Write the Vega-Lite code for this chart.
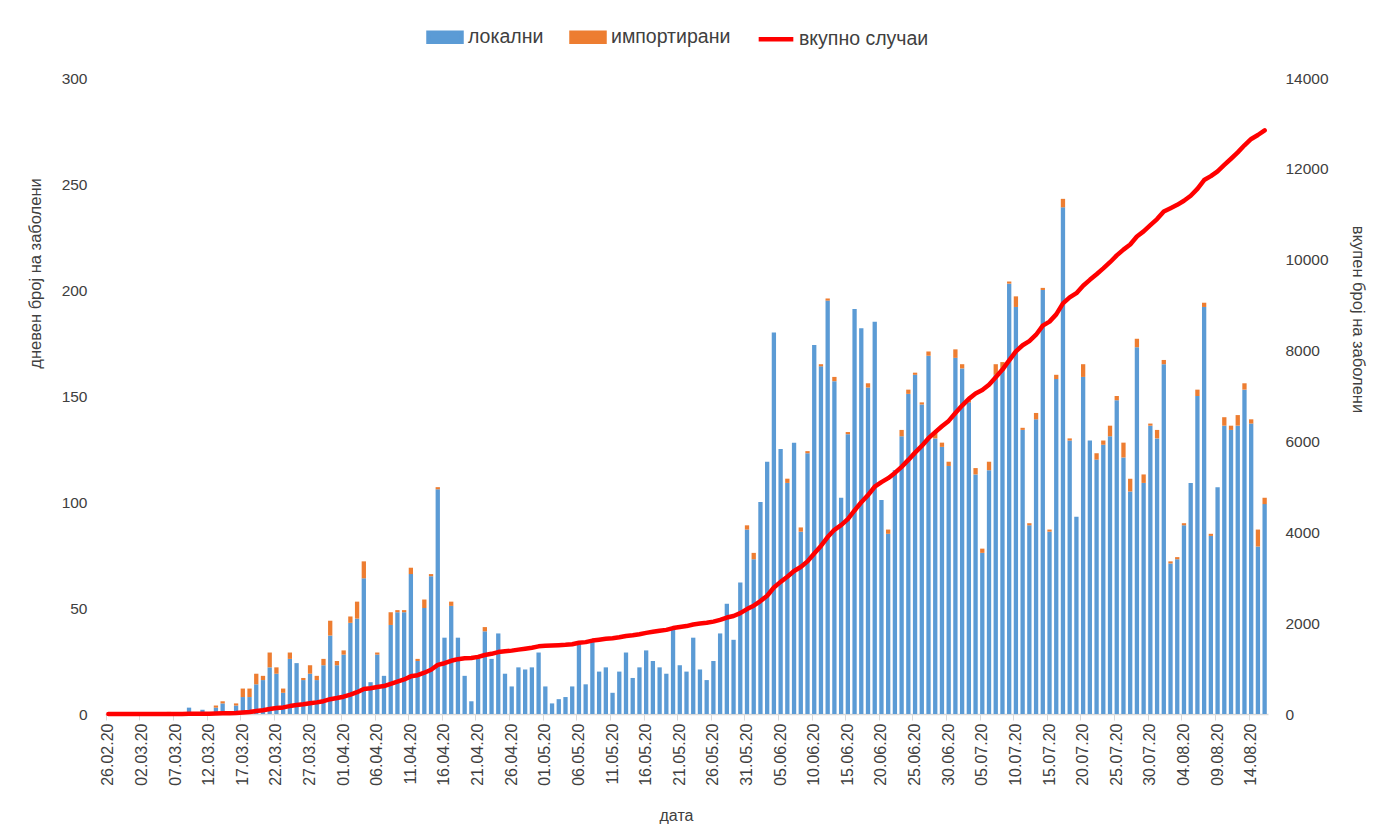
{
"$schema": "https://vega.github.io/schema/vega-lite/v6.json",
"width": 1163, "height": 636,
"autosize": {"type": "none"},
"padding": {"left": 105, "top": 78, "right": 117, "bottom": 120},
"background": "white",
"config": {"font": "Liberation Sans", "view": {"stroke": null}, "axis": {"grid": false, "labelColor": "#404040", "titleColor": "#404040", "titleFontWeight": "normal"}},
"data": {"values": [
{"d":"26.02.20","local":0,"imported":0,"total":0},
{"d":"27.02.20","local":0,"imported":0,"total":0},
{"d":"28.02.20","local":0,"imported":0,"total":0},
{"d":"29.02.20","local":0,"imported":0,"total":0},
{"d":"01.03.20","local":0,"imported":0,"total":0},
{"d":"02.03.20","local":0,"imported":0,"total":0},
{"d":"03.03.20","local":0,"imported":0,"total":0},
{"d":"04.03.20","local":0,"imported":0,"total":0},
{"d":"05.03.20","local":0,"imported":0,"total":0},
{"d":"06.03.20","local":0,"imported":1,"total":1},
{"d":"07.03.20","local":0,"imported":0,"total":1},
{"d":"08.03.20","local":0,"imported":0,"total":1},
{"d":"09.03.20","local":3,"imported":0,"total":4},
{"d":"10.03.20","local":0,"imported":0,"total":4},
{"d":"11.03.20","local":2,"imported":0,"total":6},
{"d":"12.03.20","local":0,"imported":0,"total":6},
{"d":"13.03.20","local":3,"imported":1,"total":10},
{"d":"14.03.20","local":5,"imported":1,"total":16},
{"d":"15.03.20","local":0,"imported":0,"total":16},
{"d":"16.03.20","local":4,"imported":1,"total":21},
{"d":"17.03.20","local":8,"imported":4,"total":33},
{"d":"18.03.20","local":8,"imported":4,"total":45},
{"d":"19.03.20","local":14,"imported":5,"total":64},
{"d":"20.03.20","local":16,"imported":2,"total":82},
{"d":"21.03.20","local":22,"imported":7,"total":111},
{"d":"22.03.20","local":19,"imported":3,"total":133},
{"d":"23.03.20","local":10,"imported":2,"total":145},
{"d":"24.03.20","local":26,"imported":3,"total":174},
{"d":"25.03.20","local":24,"imported":0,"total":198},
{"d":"26.03.20","local":16,"imported":1,"total":215},
{"d":"27.03.20","local":19,"imported":4,"total":238},
{"d":"28.03.20","local":16,"imported":2,"total":256},
{"d":"29.03.20","local":23,"imported":3,"total":282},
{"d":"30.03.20","local":37,"imported":7,"total":326},
{"d":"31.03.20","local":23,"imported":2,"total":351},
{"d":"01.04.20","local":28,"imported":2,"total":381},
{"d":"02.04.20","local":43,"imported":3,"total":427},
{"d":"03.04.20","local":45,"imported":8,"total":480},
{"d":"04.04.20","local":64,"imported":8,"total":552},
{"d":"05.04.20","local":15,"imported":0,"total":567},
{"d":"06.04.20","local":28,"imported":1,"total":596},
{"d":"07.04.20","local":18,"imported":0,"total":614},
{"d":"08.04.20","local":42,"imported":6,"total":662},
{"d":"09.04.20","local":48,"imported":1,"total":711},
{"d":"10.04.20","local":48,"imported":1,"total":760},
{"d":"11.04.20","local":66,"imported":3,"total":829},
{"d":"12.04.20","local":25,"imported":1,"total":855},
{"d":"13.04.20","local":50,"imported":4,"total":909},
{"d":"14.04.20","local":65,"imported":1,"total":975},
{"d":"15.04.20","local":106,"imported":1,"total":1082},
{"d":"16.04.20","local":36,"imported":0,"total":1118},
{"d":"17.04.20","local":51,"imported":2,"total":1171},
{"d":"18.04.20","local":36,"imported":0,"total":1207},
{"d":"19.04.20","local":18,"imported":0,"total":1225},
{"d":"20.04.20","local":6,"imported":0,"total":1231},
{"d":"21.04.20","local":26,"imported":1,"total":1258},
{"d":"22.04.20","local":39,"imported":2,"total":1299},
{"d":"23.04.20","local":26,"imported":0,"total":1325},
{"d":"24.04.20","local":38,"imported":0,"total":1363},
{"d":"25.04.20","local":19,"imported":0,"total":1382},
{"d":"26.04.20","local":13,"imported":0,"total":1395},
{"d":"27.04.20","local":22,"imported":0,"total":1417},
{"d":"28.04.20","local":21,"imported":0,"total":1438},
{"d":"29.04.20","local":22,"imported":0,"total":1460},
{"d":"30.04.20","local":29,"imported":0,"total":1489},
{"d":"01.05.20","local":13,"imported":0,"total":1502},
{"d":"02.05.20","local":5,"imported":0,"total":1507},
{"d":"03.05.20","local":7,"imported":0,"total":1514},
{"d":"04.05.20","local":8,"imported":0,"total":1522},
{"d":"05.05.20","local":13,"imported":0,"total":1535},
{"d":"06.05.20","local":33,"imported":0,"total":1568},
{"d":"07.05.20","local":14,"imported":0,"total":1582},
{"d":"08.05.20","local":34,"imported":0,"total":1616},
{"d":"09.05.20","local":20,"imported":0,"total":1636},
{"d":"10.05.20","local":22,"imported":0,"total":1658},
{"d":"11.05.20","local":10,"imported":0,"total":1668},
{"d":"12.05.20","local":20,"imported":0,"total":1688},
{"d":"13.05.20","local":29,"imported":0,"total":1717},
{"d":"14.05.20","local":17,"imported":0,"total":1734},
{"d":"15.05.20","local":22,"imported":0,"total":1756},
{"d":"16.05.20","local":30,"imported":0,"total":1786},
{"d":"17.05.20","local":25,"imported":0,"total":1811},
{"d":"18.05.20","local":22,"imported":0,"total":1833},
{"d":"19.05.20","local":19,"imported":0,"total":1852},
{"d":"20.05.20","local":40,"imported":0,"total":1892},
{"d":"21.05.20","local":23,"imported":0,"total":1915},
{"d":"22.05.20","local":20,"imported":0,"total":1935},
{"d":"23.05.20","local":36,"imported":0,"total":1971},
{"d":"24.05.20","local":21,"imported":0,"total":1992},
{"d":"25.05.20","local":16,"imported":0,"total":2008},
{"d":"26.05.20","local":25,"imported":0,"total":2033},
{"d":"27.05.20","local":38,"imported":0,"total":2071},
{"d":"28.05.20","local":52,"imported":0,"total":2123},
{"d":"29.05.20","local":35,"imported":0,"total":2158},
{"d":"30.05.20","local":62,"imported":0,"total":2220},
{"d":"31.05.20","local":87,"imported":2,"total":2309},
{"d":"01.06.20","local":73,"imported":3,"total":2385},
{"d":"02.06.20","local":100,"imported":0,"total":2485},
{"d":"03.06.20","local":119,"imported":0,"total":2604},
{"d":"04.06.20","local":180,"imported":0,"total":2784},
{"d":"05.06.20","local":125,"imported":0,"total":2909},
{"d":"06.06.20","local":109,"imported":2,"total":3020},
{"d":"07.06.20","local":128,"imported":0,"total":3148},
{"d":"08.06.20","local":86,"imported":2,"total":3236},
{"d":"09.06.20","local":123,"imported":1,"total":3360},
{"d":"10.06.20","local":174,"imported":0,"total":3534},
{"d":"11.06.20","local":164,"imported":1,"total":3699},
{"d":"12.06.20","local":195,"imported":1,"total":3895},
{"d":"13.06.20","local":157,"imported":2,"total":4054},
{"d":"14.06.20","local":102,"imported":0,"total":4156},
{"d":"15.06.20","local":132,"imported":1,"total":4289},
{"d":"16.06.20","local":191,"imported":0,"total":4480},
{"d":"17.06.20","local":182,"imported":0,"total":4662},
{"d":"18.06.20","local":154,"imported":2,"total":4818},
{"d":"19.06.20","local":185,"imported":0,"total":5003},
{"d":"20.06.20","local":101,"imported":0,"total":5104},
{"d":"21.06.20","local":85,"imported":2,"total":5191},
{"d":"22.06.20","local":115,"imported":0,"total":5306},
{"d":"23.06.20","local":131,"imported":3,"total":5440},
{"d":"24.06.20","local":151,"imported":2,"total":5593},
{"d":"25.06.20","local":160,"imported":1,"total":5754},
{"d":"26.06.20","local":146,"imported":1,"total":5901},
{"d":"27.06.20","local":169,"imported":2,"total":6072},
{"d":"28.06.20","local":130,"imported":3,"total":6205},
{"d":"29.06.20","local":126,"imported":2,"total":6333},
{"d":"30.06.20","local":117,"imported":2,"total":6452},
{"d":"01.07.20","local":168,"imported":4,"total":6624},
{"d":"02.07.20","local":163,"imported":2,"total":6789},
{"d":"03.07.20","local":147,"imported":1,"total":6937},
{"d":"04.07.20","local":113,"imported":3,"total":7053},
{"d":"05.07.20","local":76,"imported":2,"total":7131},
{"d":"06.07.20","local":115,"imported":4,"total":7250},
{"d":"07.07.20","local":160,"imported":5,"total":7415},
{"d":"08.07.20","local":163,"imported":3,"total":7581},
{"d":"09.07.20","local":203,"imported":1,"total":7785},
{"d":"10.07.20","local":192,"imported":5,"total":7982},
{"d":"11.07.20","local":134,"imported":1,"total":8117},
{"d":"12.07.20","local":89,"imported":1,"total":8207},
{"d":"13.07.20","local":139,"imported":3,"total":8349},
{"d":"14.07.20","local":200,"imported":1,"total":8550},
{"d":"15.07.20","local":86,"imported":1,"total":8637},
{"d":"16.07.20","local":158,"imported":2,"total":8797},
{"d":"17.07.20","local":239,"imported":4,"total":9040},
{"d":"18.07.20","local":129,"imported":1,"total":9170},
{"d":"19.07.20","local":93,"imported":0,"total":9263},
{"d":"20.07.20","local":159,"imported":6,"total":9428},
{"d":"21.07.20","local":129,"imported":0,"total":9557},
{"d":"22.07.20","local":120,"imported":3,"total":9680},
{"d":"23.07.20","local":127,"imported":2,"total":9809},
{"d":"24.07.20","local":131,"imported":5,"total":9945},
{"d":"25.07.20","local":148,"imported":2,"total":10095},
{"d":"26.07.20","local":121,"imported":7,"total":10223},
{"d":"27.07.20","local":105,"imported":6,"total":10334},
{"d":"28.07.20","local":173,"imported":4,"total":10511},
{"d":"29.07.20","local":109,"imported":4,"total":10624},
{"d":"30.07.20","local":136,"imported":1,"total":10761},
{"d":"31.07.20","local":130,"imported":4,"total":10895},
{"d":"01.08.20","local":165,"imported":2,"total":11062},
{"d":"02.08.20","local":71,"imported":1,"total":11134},
{"d":"03.08.20","local":73,"imported":1,"total":11208},
{"d":"04.08.20","local":89,"imported":1,"total":11298},
{"d":"05.08.20","local":109,"imported":0,"total":11407},
{"d":"06.08.20","local":150,"imported":3,"total":11560},
{"d":"07.08.20","local":192,"imported":2,"total":11754},
{"d":"08.08.20","local":84,"imported":1,"total":11839},
{"d":"09.08.20","local":107,"imported":0,"total":11946},
{"d":"10.08.20","local":136,"imported":4,"total":12086},
{"d":"11.08.20","local":134,"imported":2,"total":12222},
{"d":"12.08.20","local":136,"imported":5,"total":12363},
{"d":"13.08.20","local":153,"imported":3,"total":12519},
{"d":"14.08.20","local":137,"imported":2,"total":12658},
{"d":"15.08.20","local":79,"imported":8,"total":12745},
{"d":"16.08.20","local":99,"imported":3,"total":12847}
]},
"layer": [
{
"transform": [{"fold": ["local", "imported"], "as": ["key", "value"]}],
"mark": {"type": "bar"},
"encoding": {
"x": {"field": "d", "type": "nominal", "sort": null,
"scale": {"type": "band", "paddingInner": 0.36, "paddingOuter": 0.18},
"axis": {"values": ["26.02.20","02.03.20","07.03.20","12.03.20","17.03.20","22.03.20","27.03.20","01.04.20","06.04.20","11.04.20","16.04.20","21.04.20","26.04.20","01.05.20","06.05.20","11.05.20","16.05.20","21.05.20","26.05.20","31.05.20","05.06.20","10.06.20","15.06.20","20.06.20","25.06.20","30.06.20","05.07.20","10.07.20","15.07.20","20.07.20","25.07.20","30.07.20","04.08.20","09.08.20","14.08.20"],
"bandPosition": 0, "tickSize": 6, "tickColor": "#D9D9D9", "domainColor": "#D9D9D9", "domainWidth": 1.3,
"labelAngle": -90, "labelFontSize": 16, "labelPadding": 3,
"title": "дата", "titleFontSize": 16, "titleX": 571, "titleY": 101, "titleAlign": "center", "titleBaseline": "middle"}},
"y": {"field": "value", "type": "quantitative", "stack": "zero",
"scale": {"domain": [0, 300], "nice": false},
"axis": {"values": [0,50,100,150,200,250,300], "ticks": false, "domain": false, "labelPadding": 18, "labelFontSize": 15.5,
"title": "дневен број на заболени", "titleFontSize": 16.5, "titleAngle": -90, "titleX": -70, "titleY": 195, "titleAlign": "center", "titleBaseline": "middle"}},
"color": {"field": "key", "type": "nominal",
"scale": {"domain": ["local", "imported", "total"], "range": ["#5B9BD5", "#ED7D31", "#FF0000"]},
"legend": {"orient": "none", "legendX": 321, "legendY": -60, "direction": "horizontal", "title": null,
"labelFontSize": 19.5, "labelColor": "#404040", "symbolSize": 1089, "labelOffset": 4, "columnPadding": 18,
"labelExpr": "datum.value == 'local' ? 'локални' : (datum.value == 'imported' ? 'импортирани' : 'вкупно случаи')",
"encode": {"symbols": {"update": {
"shape": {"signal": "datum.value == 'total' ? 'M-1.05,0H1.05' : 'M-1,-0.27H1V0.27H-1Z'"},
"fill": {"signal": "datum.value == 'total' ? 'transparent' : (datum.value == 'local' ? '#5B9BD5' : '#ED7D31')"},
"stroke": {"signal": "datum.value == 'total' ? '#FF0000' : 'transparent'"},
"strokeWidth": {"value": 4.5},
"opacity": {"value": 1}}}}}},
"order": {"field": "key", "sort": "descending"}
}
},
{
"mark": {"type": "line", "strokeWidth": 4.5, "strokeCap": "round", "strokeJoin": "round"},
"encoding": {
"x": {"field": "d", "type": "nominal", "sort": null},
"y": {"field": "total", "type": "quantitative",
"scale": {"domain": [0, 14000], "nice": false},
"axis": {"orient": "right", "values": [0,2000,4000,6000,8000,10000,12000,14000], "ticks": false, "domain": false, "labelPadding": 17, "labelFontSize": 15.5, "format": "d",
"title": "вкупен број на заболени", "titleFontSize": 16.5, "titleAngle": 90, "titleX": 89, "titleY": 241, "titleAlign": "center", "titleBaseline": "middle"}},
"color": {"datum": "total"}
}
}
],
"resolve": {"scale": {"y": "independent"}, "axis": {"y": "independent"}}
}
